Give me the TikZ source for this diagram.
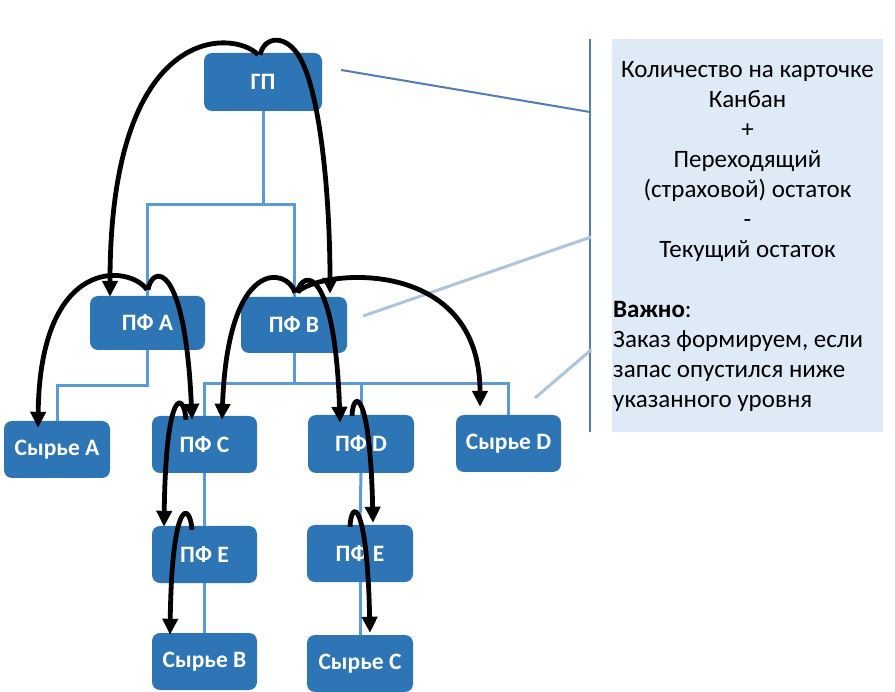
\documentclass[tikz,border=0pt]{standalone}
\usepackage{fontspec}
\setmainfont{Carlito}
\usetikzlibrary{arrows.meta,calc}
\definecolor{nodeblue}{HTML}{2E75B6}
\definecolor{treeblue}{HTML}{5B9BD5}
\definecolor{panelfill}{HTML}{DEEBF7}
\definecolor{bracket}{HTML}{4F7DB5}
\definecolor{lightline}{HTML}{ADC5DC}
\begin{document}
\begin{tikzpicture}[x=1pt,y=-1pt,
  box/.style={rectangle, rounded corners=8pt, fill=nodeblue, text=white,
    font=\fontsize{23.5}{28}\selectfont\bfseries, inner sep=0pt},
  tree/.style={draw=treeblue, line width=3pt},
  flow/.style={draw=black, line width=4.8pt, -{Triangle[length=16pt,width=15pt]}},
  paneltext/.style={font=\fontsize{25}{30}\selectfont, inner sep=0pt, text=black},
]
\useasboundingbox (0,0) rectangle (895,692);

% panel
\node[fill=panelfill, minimum width=271pt, minimum height=393pt, inner sep=0pt] (panel) at (747.5,235.5) {};
\coordinate (vt) at (590,39);
\coordinate (vb) at (590,432);
\draw[bracket, line width=2pt] (vt) -- (vb);
\node[paneltext, align=center] (formula) at (747.5,161.7)
  {Количество на карточке\\Канбан\\+\\Переходящий\\(страховой) остаток\\-\\Текущий остаток};
\node[paneltext, align=left, anchor=west] (note) at (613,356.7)
  {\textbf{Важно}:\\Заказ формируем, если\\запас опустился ниже\\указанного уровня};

% nodes
\node[box, minimum width=118pt, minimum height=58pt] (gp)   at (263,82)    {ГП};
\node[box, minimum width=115pt, minimum height=54pt] (pfa)  at (147.5,323) {ПФ A};
\node[box, minimum width=106pt, minimum height=56pt] (pfb)  at (294,325)   {ПФ B};
\node[box, minimum width=106pt, minimum height=57pt] (sa)   at (57,449.5)  {Сырье A};
\node[box, minimum width=105pt, minimum height=57pt] (pfc)  at (204.5,444.5) {ПФ C};
\node[box, minimum width=106pt, minimum height=58pt] (pfd)  at (361,444)   {ПФ D};
\node[box, minimum width=105pt, minimum height=57pt] (sd)   at (508.5,443.5) {Сырье D};
\node[box, minimum width=105pt, minimum height=57pt] (pfe1) at (204.5,554.5) {ПФ E};
\node[box, minimum width=106pt, minimum height=57pt] (pfe2) at (360,553.5) {ПФ E};
\node[box, minimum width=105pt, minimum height=57pt] (sb)   at (204.5,661.5) {Сырье B};
\node[box, minimum width=106pt, minimum height=57pt] (sc)   at (360,663.5) {Сырье C};

% pointer lines to panel
\coordinate (g1) at ($(gp.east)+(19,-12)$);
\coordinate (g2) at (590,112);
\draw[bracket, line width=2pt] (g1) -- (g2);
\coordinate (l1a) at ($(pfb.east)+(16,-9)$);
\coordinate (l1b) at (591,237);
\draw[lightline, line width=3pt] (l1a) -- (l1b);
\coordinate (l2a) at (535,398);
\coordinate (l2b) at (591,350);
\draw[lightline, line width=3pt] (l2a) -- (l2b);

% tree
\coordinate (b1) at (263,205);
\coordinate (b2) at (294,384);
\draw[tree] (gp.south) -- (b1);
\draw[tree] (b1) -| (pfa.north);
\draw[tree] (b1) -| (pfb.north);
\draw[tree] (pfa.south) -- ++(0,35) -| (sa.north);
\draw[tree] (pfb.south) -- (b2);
\draw[tree] (b2) -| (pfc.north);
\draw[tree] (b2) -| (pfd.north);
\draw[tree] (b2) -| (sd.north);
\draw[tree] (pfc.south) -- (pfe1.north);
\draw[tree] (pfe1.south) -- (sb.north);
\draw[tree] (pfd.south) -- (pfe2.north);
\draw[tree] (pfe2.south) -- (sc.north);

% flow arrows
\draw[flow] ($(gp.north)+(-5,2)$) .. controls +(-23,-25) and +(0,-277) .. ($(pfa.north)+(-37.5,1)$);
\draw[flow] ($(gp.north)+(-3,2)$) .. controls +(5,-20) and +(-13,-23) .. ($(gp.north)+(37,5)$)
  .. controls +(21,37) and +(0,-93) .. ($(pfb.north)+(36,-3)$);
\draw[flow] ($(pfa.north)+(-0.5,-6)$) .. controls +(-17,-25) and +(2,-173) .. ($(sa.north)+(-19,7)$);
\draw[flow] ($(pfa.north)+(0.5,-6)$) .. controls +(4,-25) and +(-7,-160) .. ($(pfc.north)+(-12.5,4)$);
\draw[flow] ($(pfb.north)+(1,-4)$) .. controls +(-7,-25) and +(6,-165) .. ($(pfc.north)+(17.5,4)$);
\draw[flow] ($(pfb.north)+(3,-4)$) .. controls +(6,-25) and +(-5,-155) .. ($(pfd.north)+(-21,8)$);
\draw[flow] ($(pfb.north)+(4,-5)$) .. controls +(22,-22) and +(0,-152) .. ($(sd.north)+(-28.5,-8)$);
\draw[flow] ($(pfc.north)+(-18.5,4)$) .. controls +(-2,-28) and +(2,-142) .. ($(pfe1.north)+(-40.5,1)$);
\draw[flow] ($(pfe1.north)+(-12.5,4)$) .. controls +(-2,-28) and +(2,-138) .. ($(sb.north)+(-34.5,2)$);
\draw[flow] ($(pfd.north)+(-9,1)$) .. controls +(1,-26) and +(-3,-135) .. ($(pfe2.north)+(13,-2)$);
\draw[flow] ($(pfe2.north)+(-10,2)$) .. controls +(1,-27) and +(-3,-135) .. ($(sc.north)+(10,-2)$);
\end{tikzpicture}
\end{document}
